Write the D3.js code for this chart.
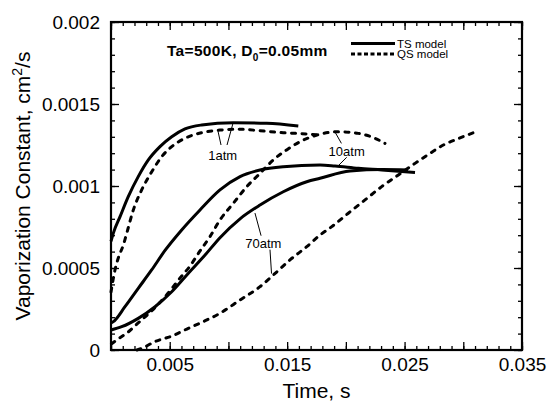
<!DOCTYPE html>
<html>
<head>
<meta charset="utf-8">
<script src="https://cdn.jsdelivr.net/npm/d3@7/dist/d3.min.js"></script>
<style>
body { margin: 0; background: #fff; }
svg { font-family: "Liberation Sans", Arial, Helvetica, sans-serif; }
</style>
</head>
<body>
<svg id="svg"></svg>
<script>
var width = 549, height = 406;
var margin = {left: 111, right: 27, top: 22, bottom: 56};

// time (s), vaporization constant (cm2/s)
var ts1atm = [[0,0.000662],[0.0002,0.000713],[0.00077,0.000813],[0.00147,0.000935],[0.00232,0.001057],
	[0.00318,0.001159],[0.00417,0.00124],[0.00517,0.0013],[0.0063,0.001348],[0.00772,0.001372],
	[0.01041,0.001386],[0.01326,0.001382],[0.01595,0.001366]];
var qs1atm = [[0,0.000354],[0.00034,0.000488],[0.00062,0.000561],[0.00105,0.00064],[0.00134,0.000712],
	[0.0019,0.000854],[0.00261,0.000976],[0.00347,0.001087],[0.00432,0.001179],[0.00517,0.00124],
	[0.0063,0.001291],[0.00772,0.001325],[0.00928,0.001341],[0.01099,0.001346],[0.01269,0.001337],
	[0.01467,0.001325],[0.01667,0.001317],[0.01763,0.001311]];
var ts10atm = [[0,0.000165],[0.0002,0.000173],[0.00119,0.000264],[0.00232,0.000376],[0.00346,0.000488],
	[0.0046,0.000607],[0.00602,0.000732],[0.00758,0.000854],[0.00928,0.000976],[0.01099,0.001057],
	[0.01269,0.001098],[0.01467,0.001118],[0.0178,0.001128],[0.01908,0.001122],[0.02107,0.001108],
	[0.02306,0.001098],[0.02589,0.001082]];
var qs10atm = [[0.00004,0.000037],[0.00049,0.000061],[0.00147,0.00011],[0.00232,0.000165],[0.00318,0.00022],
	[0.00403,0.00028],[0.00502,0.00036],[0.00588,0.000439],[0.00673,0.000512],[0.00758,0.000604],
	[0.00843,0.000691],[0.00928,0.000793],[0.01042,0.000895],[0.01156,0.000996],[0.01269,0.001077],
	[0.01382,0.001159],[0.01496,0.00122],[0.0161,0.00127],[0.01752,0.00131],[0.01936,0.001331],
	[0.02106,0.001321],[0.02248,0.001291],[0.02333,0.00126]];
var ts70atm = [[0,0.000122],[0.00091,0.000142],[0.00232,0.000193],[0.00375,0.000264],[0.00517,0.000355],
	[0.00659,0.000468],[0.00801,0.000579],[0.00928,0.000685],[0.01099,0.000800],[0.01269,0.000884],
	[0.01467,0.000965],[0.01667,0.001026],[0.0178,0.001047],[0.02035,0.001091],[0.02316,0.0011],
	[0.02529,0.001098]];
var qs70atm = [[0.00221,0],[0.00261,0.00001],[0.00375,0.000051],[0.00517,0.000085],[0.00658,0.000132],
	[0.00786,0.000173],[0.00928,0.000224],[0.01099,0.000305],[0.01269,0.000386],[0.01382,0.000457],
	[0.01524,0.000549],[0.01667,0.00063],[0.0178,0.000701],[0.0188,0.000752],[0.02021,0.000834],
	[0.02163,0.000915],[0.02305,0.000996],[0.02447,0.001067],[0.02589,0.001138],[0.02717,0.001199],
	[0.0283,0.00125],[0.02944,0.001285],[0.03091,0.001326]];

var series = [
	{data: ts1atm, model: "TS"}, {data: qs1atm, model: "QS"},
	{data: ts10atm, model: "TS"}, {data: qs10atm, model: "QS"},
	{data: ts70atm, model: "TS"}, {data: qs70atm, model: "QS"}
];

var xMajor = [0, 0.005, 0.01, 0.015, 0.02, 0.025, 0.03, 0.035];
var xLabeled = [0.005, 0.015, 0.025, 0.035];
var yMajor = [0, 0.0005, 0.001, 0.0015, 0.002];

// pressure labels: text position, then leader lines [t1,v1,t2,v2]
var pressureLabels = [
	{text: "1atm", t: 0.00951, v: 0.001156, lines: [[0.00937,0.00125,0.00911,0.001335],[0.00988,0.00125,0.01039,0.001383]]},
	{text: "10atm", t: 0.02007, v: 0.001183, lines: [[0.01962,0.00126,0.01907,0.00133],[0.02007,0.001175,0.01936,0.001124]]},
	{text: "70atm", t: 0.01297, v: 0.000622, lines: [[0.01278,0.000697,0.01226,0.000835],[0.01354,0.000612,0.01367,0.000466]]}
];

var svg = d3.select("#svg")
	.attr("width", width)
	.attr("height", height);

var x = d3.scaleLinear()
	.domain([0, 0.035])
	.range([margin.left, width - margin.right]);
var y = d3.scaleLinear()
	.domain([0, 0.002])
	.range([height - margin.bottom, margin.top]);

var fmt = function(d) { return d === 0 ? "0" : String(+d.toFixed(4)); };

var xMinor = d3.range(0, 0.0351, 0.001);
var yMinor = d3.range(0, 0.00201, 0.0001);

function minorAxis(axis, values) {
	return axis.tickValues(values).tickSizeInner(-4).tickSizeOuter(0).tickFormat("");
}

var bottom = height - margin.bottom, right = width - margin.right;

svg.append("g").attr("transform", "translate(0," + bottom + ")")
	.call(minorAxis(d3.axisBottom(x), xMinor));
svg.append("g").attr("transform", "translate(0," + margin.top + ")")
	.call(minorAxis(d3.axisTop(x), xMinor));
svg.append("g").attr("transform", "translate(" + margin.left + ",0)")
	.call(minorAxis(d3.axisLeft(y), yMinor));
svg.append("g").attr("transform", "translate(" + right + ",0)")
	.call(minorAxis(d3.axisRight(y), yMinor));

svg.append("g").attr("class", "xaxis").attr("transform", "translate(0," + bottom + ")")
	.call(d3.axisBottom(x).tickValues(xMajor).tickSizeInner(-8).tickSizeOuter(0).tickPadding(8)
		.tickFormat(function(d) { return xLabeled.some(function(v) { return Math.abs(v - d) < 1e-9; }) ? fmt(d) : ""; }));
svg.append("g").attr("transform", "translate(0," + margin.top + ")")
	.call(d3.axisTop(x).tickValues(xMajor).tickSizeInner(-8).tickSizeOuter(0).tickFormat(""));
svg.append("g").attr("class", "yaxis").attr("transform", "translate(" + margin.left + ",0)")
	.call(d3.axisLeft(y).tickValues(yMajor).tickSizeInner(-8).tickSizeOuter(0).tickPadding(11).tickFormat(fmt));
svg.append("g").attr("transform", "translate(" + right + ",0)")
	.call(d3.axisRight(y).tickValues(yMajor).tickSizeInner(-8).tickSizeOuter(0).tickFormat(""));

svg.selectAll(".domain").remove();
svg.selectAll(".tick line").attr("stroke", "#000").attr("stroke-width", 1.3);
svg.selectAll(".tick text").attr("font-size", 19).attr("fill", "#000")
	.attr("font-family", "'Liberation Sans', Arial, sans-serif");
svg.selectAll(".yaxis .tick text").attr("dy", "0.36em");

svg.append("rect")
	.attr("x", margin.left).attr("y", margin.top)
	.attr("width", right - margin.left).attr("height", bottom - margin.top)
	.attr("fill", "none").attr("stroke", "#000").attr("stroke-width", 2.2);

var line = d3.line()
	.x(function(d) { return x(d[0]); })
	.y(function(d) { return y(d[1]); })
	.curve(d3.curveMonotoneX);

svg.selectAll(".curve")
	.data(series)
	.enter()
	.append("path")
	.attr("class", "curve")
	.attr("d", function(d) { return line(d.data); })
	.attr("fill", "none")
	.attr("stroke", "#000")
	.attr("stroke-width", 3)
	.attr("stroke-linecap", function(d) { return d.model === "QS" ? "round" : "butt"; })
	.attr("stroke-dasharray", function(d) { return d.model === "QS" ? "4,6.5" : null; });

// pressure labels with leader lines
pressureLabels.forEach(function(p) {
	p.lines.forEach(function(l) {
		svg.append("line")
			.attr("x1", x(l[0])).attr("y1", y(l[1]))
			.attr("x2", x(l[2])).attr("y2", y(l[3]))
			.attr("stroke", "#000").attr("stroke-width", 1);
	});
	svg.append("text")
		.attr("x", x(p.t)).attr("y", y(p.v))
		.attr("text-anchor", "middle")
		.attr("font-size", 13)
		.text(p.text);
});

// condition text
var cond = svg.append("text")
	.attr("x", 167).attr("y", 56)
	.attr("font-size", 15.5)
	.attr("letter-spacing", 0.3)
	.attr("font-weight", "bold");
cond.append("tspan").text("Ta=500K, D");
cond.append("tspan").attr("font-size", 10).attr("dy", 5).text("0");
cond.append("tspan").attr("dy", -5).text("=0.05mm");

// legend
var legend = [{name: "TS model", dash: null}, {name: "QS model", dash: "4,2.5"}];
var lg = svg.selectAll(".legend")
	.data(legend)
	.enter()
	.append("g")
	.attr("class", "legend")
	.attr("transform", function(d, i) { return "translate(351," + (43.5 + i * 10.5) + ")"; });
lg.append("line")
	.attr("x1", 0).attr("x2", 44)
	.attr("stroke", "#000").attr("stroke-width", 3)
	.attr("stroke-dasharray", function(d) { return d.dash; });
lg.append("text")
	.attr("x", 46).attr("y", 4)
	.attr("font-size", 11.5)
	.text(function(d) { return d.name; });

// axis titles
svg.append("text")
	.attr("x", (margin.left + right) / 2)
	.attr("y", 398)
	.attr("text-anchor", "middle")
	.attr("font-size", 21)
	.text("Time, s");

var yt = svg.append("text")
	.attr("transform", "translate(30," + ((margin.top + bottom) / 2) + ") rotate(-90)")
	.attr("text-anchor", "middle")
	.attr("font-size", 21);
yt.append("tspan").text("Vaporization Constant, cm");
yt.append("tspan").attr("font-size", 14).attr("dy", -8).text("2");
yt.append("tspan").attr("dy", 8).text("/s");
</script>
</body>
</html>
